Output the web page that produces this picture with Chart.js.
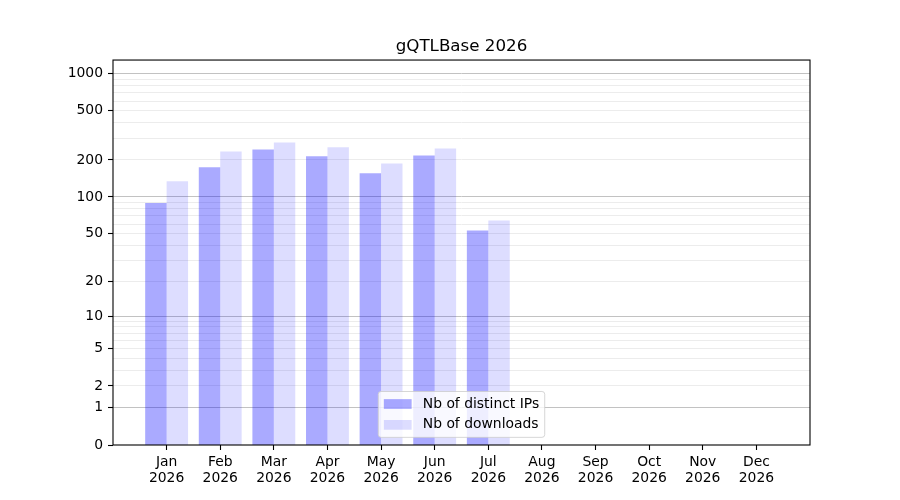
<!DOCTYPE html>
<html>
<head>
<meta charset="utf-8">
<title>gQTLBase 2026</title>
<script src="https://cdn.jsdelivr.net/npm/chart.js@4.4.1/dist/chart.umd.min.js"></script>
<style>
  html, body { margin: 0; padding: 0; background: #fff; }
  #wrap { width: 900px; height: 500px; }
</style>
</head>
<body>
<div id="wrap"><canvas id="dlChart" width="900" height="500"></canvas></div>
<script>
const chartTitle = 'gQTLBase 2026';
const months = ['Jan', 'Feb', 'Mar', 'Apr', 'May', 'Jun', 'Jul', 'Aug', 'Sep', 'Oct', 'Nov', 'Dec'];
const year = '2026';
const distinctIPs = [89, 174, 243, 214, 156, 217, 53, 0, 0, 0, 0, 0];
const downloads = [134, 234, 277, 253, 187, 248, 64, 0, 0, 0, 0, 0];

// y axis is log10(count + 1)
const yTickLabels = [0, 1, 2, 5, 10, 20, 50, 100, 200, 500, 1000];
const yMajorGrid = [1, 10, 100, 1000];
const yMinorGrid = [2, 3, 4, 5, 6, 7, 8, 9, 20, 30, 40, 50, 60, 70, 80, 90,
                    200, 300, 400, 500, 600, 700, 800, 900];

const FONT = 'DejaVu Sans';
const FS = 13.9;

const shift = v => v + 1;
const allYTicks = [...new Set([...yTickLabels, ...yMajorGrid, ...yMinorGrid])].sort((a, b) => a - b);

// centre the title over the plot, not the canvas
const titleOverPlot = {
    id: 'titleOverPlot',
    afterLayout(chart) {
        if (chart.titleBlock) {
            chart.titleBlock.left = chart.chartArea.left;
            chart.titleBlock.right = chart.chartArea.right;
        }
    }
};

// plot frame (all four spines)
const framePlugin = {
    id: 'frame',
    afterDatasetsDraw(chart) {
        const { ctx, chartArea: a } = chart;
        ctx.save();
        ctx.strokeStyle = '#000';
        ctx.lineWidth = 1.1;
        ctx.strokeRect(a.left, a.top, a.right - a.left, a.bottom - a.top);
        ctx.restore();
    }
};

// legend inside the plot, lower center
const innerLegend = {
    id: 'innerLegend',
    afterDraw(chart) {
        const { ctx, chartArea: a } = chart;
        const sets = chart.data.datasets;
        const pad = 0.4 * FS, handleW = 2 * FS, handleH = 0.7 * FS;
        const textPad = 0.8 * FS, rowH = FS, gap = 0.5 * FS;
        ctx.save();
        ctx.font = FS + 'px "' + FONT + '"';
        const textW = Math.max(...sets.map(d => ctx.measureText(d.label).width));
        const w = pad * 2 + handleW + textPad + textW;
        const h = pad * 2 + rowH * sets.length + gap * (sets.length - 1);
        const x = (a.left + a.right) / 2 - w / 2;
        const y = a.bottom - 0.55 * FS - h;

        ctx.beginPath();
        ctx.roundRect(x, y, w, h, 0.2 * FS);
        ctx.fillStyle = 'rgba(255,255,255,0.8)';
        ctx.fill();
        ctx.strokeStyle = 'rgba(204,204,204,0.8)';
        ctx.lineWidth = 1;
        ctx.stroke();

        sets.forEach((d, i) => {
            const cy = y + pad + rowH / 2 + i * (rowH + gap);
            ctx.fillStyle = d.backgroundColor;
            ctx.fillRect(x + pad, cy - handleH / 2, handleW, handleH);
            ctx.fillStyle = '#000';
            ctx.textBaseline = 'middle';
            ctx.fillText(d.label, x + pad + handleW + textPad, cy);
        });
        ctx.restore();
    }
};

const ctx = document.getElementById('dlChart').getContext('2d');
new Chart(ctx, {
    type: 'bar',
    data: {
        datasets: [{
            label: 'Nb of distinct IPs',
            data: distinctIPs.map((v, i) => ({ x: i + 1, y: shift(v) })),
            backgroundColor: 'rgba(0, 0, 255, 0.333)',
            borderWidth: 0
        }, {
            label: 'Nb of downloads',
            data: downloads.map((v, i) => ({ x: i + 1, y: shift(v) })),
            backgroundColor: 'rgba(0, 0, 255, 0.133)',
            borderWidth: 0
        }]
    },
    options: {
        responsive: false,
        animation: false,
        devicePixelRatio: 1,
        layout: { padding: { left: 0, right: 90, top: 0, bottom: 0 } },
        datasets: { bar: { categoryPercentage: 0.8, barPercentage: 1.0 } },
        plugins: {
            legend: { display: false },
            tooltip: { enabled: false },
            title: {
                display: true,
                text: chartTitle,
                color: '#000',
                font: { family: FONT, size: 16.7, weight: 'normal' },
                padding: { top: 37, bottom: 3 }
            }
        },
        scales: {
            x: {
                type: 'linear',
                min: 0,
                max: 13,
                offset: false,
                afterBuildTicks: s => { s.ticks = months.map((m, i) => ({ value: i + 1 })); },
                afterFit: s => { s.height = 55; },
                border: { display: false },
                grid: { offset: false, drawOnChartArea: false, tickLength: 5, tickColor: '#000', tickWidth: 1.1 },
                ticks: {
                    autoSkip: false,
                    maxRotation: 0,
                    padding: 4,
                    color: '#000',
                    font: { family: FONT, size: FS, lineHeight: 1.17 },
                    callback: v => [months[v - 1], year]
                }
            },
            y: {
                type: 'logarithmic',
                min: 1,
                max: 1288,
                afterBuildTicks: s => { s.ticks = allYTicks.map(v => ({ value: shift(v) })); },
                afterFit: s => { s.width = 113; },
                border: { display: false },
                grid: {
                    tickLength: 5,
                    tickWidth: 1.1,
                    lineWidth: 1,
                    color: c => {
                        const v = c.tick.value - 1;
                        if (v === 0) return 'rgba(0,0,0,0)';
                        return yMajorGrid.includes(v) ? '#c2c2c2' : '#ececec';
                    },
                    tickColor: c => yTickLabels.includes(c.tick.value - 1) ? '#000' : 'rgba(0,0,0,0)'
                },
                ticks: {
                    autoSkip: false,
                    padding: 5,
                    color: '#000',
                    font: { family: FONT, size: FS },
                    callback: v => yTickLabels.includes(v - 1) ? String(v - 1) : ''
                }
            }
        }
    },
    plugins: [titleOverPlot, framePlugin, innerLegend]
});
</script>
</body>
</html>
